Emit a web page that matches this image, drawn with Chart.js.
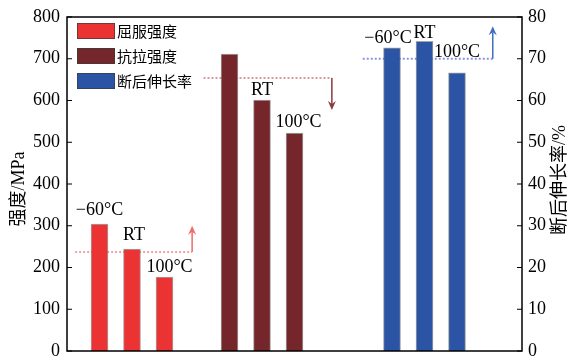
<!DOCTYPE html>
<html>
<head>
<meta charset="utf-8">
<script src="https://cdn.jsdelivr.net/npm/chart.js@4/dist/chart.umd.min.js"></script>
<style>
  html, body { margin: 0; padding: 0; background: #fff; }
  #chart { display: block; }
</style>
</head>
<body>
<canvas id="chart" width="571" height="357"></canvas>
<script>
// Values
const temps = ['−60°C', 'RT', '100°C'];
const yieldStrength = [304, 244, 177];      // MPa, left axis
const tensileStrength = [711, 601, 522];    // MPa, left axis
const elongation = [72.6, 74.2, 66.6];      // %, right axis
const seriesNames = ['屈服强度', '抗拉强度', '断后伸长率'];

// Layout: slot index of each bar on the category axis (15 slots)
const slotCount = 15;
const groupSlots = [[1, 2, 3], [5, 6, 7], [10, 11, 12]];
const colors = ['#ec3333', '#74262b', '#2c54a4'];

// Which bar labels are shown, and small nudges [dx, gap above bar]
const labelNudge = [
    [[0, 9], [2, 9], [5, 5]],
    [null, [0, 5], [4, 6]],
    [[-4, 5], [0, 3], [0, 16]]
];

// Dotted trend lines with arrows: level, axis, slot range, arrow end value
const trendLines = [
    { axis: 'y', level: 237, from: 0.25, to: 3.85, end: 300, line: '#f4a0a0', arrow: '#f26a6a' },
    { axis: 'y', level: 654, from: 4.2, to: 8.15, end: 577, line: '#d89a9a', arrow: '#8c3a3e' },
    { axis: 'y1', level: 70, from: 9.1, to: 13.1, end: 77.8, line: '#8a94e0', arrow: '#3f6fc2' }
];

const numFont = '18px "Liberation Serif", "Times New Roman", serif';
const cjkFont = '15px "Noto Sans CJK SC", sans-serif';
const titleFont = '18px "Liberation Serif", "Noto Sans CJK SC", serif';

function spread(values, slots) {
    const out = new Array(slotCount).fill(null);
    slots.forEach((s, i) => { out[s] = values[i]; });
    return out;
}

const labels = Array.from({ length: slotCount }, (_, i) => String(i));

const datasets = [yieldStrength, tensileStrength, elongation].map((vals, i) => ({
    label: seriesNames[i],
    data: spread(vals, groupSlots[i]),
    backgroundColor: colors[i],
    borderColor: 'rgba(90,90,90,0.55)',
    borderWidth: 1,
    borderSkipped: 'bottom',
    barThickness: 17,
    grouped: false,
    yAxisID: i === 2 ? 'y1' : 'y'
}));

// Frame, inward ticks, trend lines, bar labels, legend and axis titles
const decorPlugin = {
    id: 'decor',
    beforeDatasetsDraw(chart) {
        const ctx = chart.ctx;
        const x = chart.scales.x;
        trendLines.forEach(t => {
            const sc = chart.scales[t.axis];
            const py = sc.getPixelForValue(t.level);
            const x0 = x.getPixelForValue(t.from);
            const x1 = x.getPixelForValue(t.to);
            ctx.save();
            ctx.strokeStyle = t.line;
            ctx.lineWidth = 2;
            ctx.setLineDash([2, 2]);
            ctx.beginPath();
            ctx.moveTo(x0, py);
            ctx.lineTo(x1, py);
            ctx.stroke();
            ctx.restore();
        });
    },
    afterDatasetsDraw(chart) {
        const ctx = chart.ctx;
        const area = chart.chartArea;
        const x = chart.scales.x;
        const y = chart.scales.y;
        const y1 = chart.scales.y1;

        // arrows of the trend lines
        trendLines.forEach(t => {
            const sc = chart.scales[t.axis];
            const py = sc.getPixelForValue(t.level);
            const pe = sc.getPixelForValue(t.end);
            const px = x.getPixelForValue(t.to);
            const dir = pe < py ? -1 : 1;
            ctx.save();
            ctx.strokeStyle = t.arrow;
            ctx.fillStyle = t.arrow;
            ctx.lineWidth = 1.5;
            ctx.beginPath();
            ctx.moveTo(px, py);
            ctx.lineTo(px, pe - dir * 6);
            ctx.stroke();
            ctx.beginPath();
            ctx.moveTo(px, pe);
            ctx.lineTo(px - 4, pe - dir * 9);
            ctx.lineTo(px, pe - dir * 6);
            ctx.lineTo(px + 4, pe - dir * 9);
            ctx.closePath();
            ctx.fill();
            ctx.restore();
        });

        // temperature labels above bars
        ctx.save();
        ctx.font = numFont;
        ctx.fillStyle = '#000';
        ctx.textAlign = 'center';
        ctx.textBaseline = 'alphabetic';
        chart.data.datasets.forEach((ds, di) => {
            const meta = chart.getDatasetMeta(di);
            groupSlots[di].forEach((slot, k) => {
                const nudge = labelNudge[di][k];
                if (!nudge) return;
                const bar = meta.data[slot];
                ctx.fillText(temps[k], bar.x + nudge[0], bar.y - nudge[1]);
            });
        });
        ctx.restore();

        // frame
        ctx.save();
        ctx.strokeStyle = '#000';
        ctx.lineWidth = 1.5;
        ctx.strokeRect(area.left, area.top, area.right - area.left, area.bottom - area.top);

        // inward ticks
        ctx.lineWidth = 1.2;
        ctx.beginPath();
        y.ticks.forEach(t => {
            const py = y.getPixelForValue(t.value);
            ctx.moveTo(area.left, py);
            ctx.lineTo(area.left + 5, py);
        });
        y1.ticks.forEach(t => {
            const py = y1.getPixelForValue(t.value);
            ctx.moveTo(area.right, py);
            ctx.lineTo(area.right - 5, py);
        });
        ctx.stroke();
        ctx.restore();

        // legend
        ctx.save();
        ctx.font = cjkFont;
        ctx.textBaseline = 'middle';
        ctx.textAlign = 'left';
        chart.data.datasets.forEach((ds, i) => {
            const top = area.top + 6 + i * 25;
            const left = area.left + 10;
            ctx.fillStyle = ds.backgroundColor;
            ctx.fillRect(left, top, 38, 16);
            ctx.strokeStyle = 'rgba(60,60,60,0.7)';
            ctx.lineWidth = 1;
            ctx.strokeRect(left + 0.5, top + 0.5, 37, 15);
            ctx.fillStyle = '#000';
            ctx.fillText(ds.label, left + 40, top + 8);
        });
        ctx.restore();

        // axis titles, both reading bottom to top
        ctx.save();
        ctx.font = titleFont;
        ctx.fillStyle = '#000';
        ctx.textAlign = 'center';
        ctx.textBaseline = 'middle';
        ctx.translate(19, 189);
        ctx.rotate(-Math.PI / 2);
        ctx.fillText('强度/MPa', 0, 0);
        ctx.restore();

        ctx.save();
        ctx.font = titleFont;
        ctx.fillStyle = '#000';
        ctx.textAlign = 'center';
        ctx.textBaseline = 'middle';
        ctx.translate(560, 180);
        ctx.rotate(-Math.PI / 2);
        ctx.fillText('断后伸长率/%', 0, 0);
        ctx.restore();
    }
};

function fixWidth(w) {
    return function (scale) {
        scale.width = w;
        scale.paddingTop = 0;
        scale.paddingBottom = 0;
    };
}

new Chart(document.getElementById('chart'), {
    type: 'bar',
    data: { labels: labels, datasets: datasets },
    options: {
        responsive: false,
        animation: false,
        devicePixelRatio: 1,
        layout: { padding: { top: 17, bottom: 6, left: 0, right: 0 } },
        plugins: {
            legend: { display: false },
            tooltip: { enabled: false }
        },
        scales: {
            x: {
                display: false,
                offset: false
            },
            y: {
                position: 'left',
                min: 0,
                max: 800,
                ticks: { stepSize: 100, padding: 7, color: '#000', font: { family: '"Liberation Serif", serif', size: 18 } },
                grid: { display: false, drawTicks: false },
                border: { display: false },
                afterFit: fixWidth(67)
            },
            y1: {
                position: 'right',
                min: 0,
                max: 80,
                ticks: { stepSize: 10, padding: 6, color: '#000', font: { family: '"Liberation Serif", serif', size: 18 } },
                grid: { display: false, drawTicks: false },
                border: { display: false },
                afterFit: fixWidth(49)
            }
        }
    },
    plugins: [decorPlugin]
});
</script>
</body>
</html>
